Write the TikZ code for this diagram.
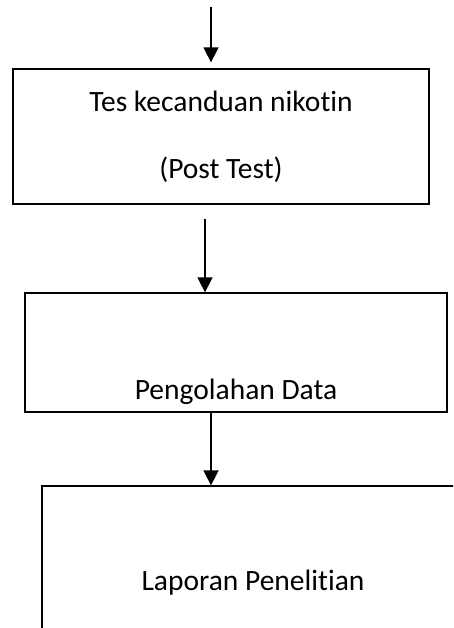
\documentclass[tikz,border=0pt]{standalone}
\usepackage{fontspec}
\setmainfont[Ligatures=NoCommon]{Carlito}
\usetikzlibrary{arrows.meta,positioning}

\begin{document}
\begin{tikzpicture}[
                  x=1pt, y=-1pt,
                  box/.style={rectangle, draw, line width=1.3pt, inner sep=0pt, align=center, font=\fontsize{29.5}{34}\selectfont},
                  line/.style={draw, line width=1.6pt, -{Triangle[width=15pt,length=15pt]}}
            ]
            \clip (0,0) rectangle (453,628);
            \useasboundingbox (0,0) rectangle (453,628);

            % Nodes
            \node [box, minimum width=416pt, minimum height=135pt] (tes) at (221,136.5)
                  {Tes kecanduan nikotin\\[33pt](Post Test)};
            \node [box, minimum width=422pt, text height=106pt, text depth=13pt] (olah) at (236,352.5)
                  {Pengolahan Data};
            \node [box, minimum width=422pt, minimum height=194pt] (lapor) at (253,583)
                  {Laporan Penelitian};
            \coordinate (start) at (211,7);

            % Edges
            \path [line] (start) -- ([yshift=6pt]start |- tes.north);
            \path [line] ([xshift=-16pt,yshift=-14pt]tes.south) -- ([xshift=-16pt]tes.south |- olah.north);
            \path [line] ([xshift=-25pt]olah.south) -- ([xshift=-25pt]olah.south |- lapor.north);
      \end{tikzpicture}
\end{document}
